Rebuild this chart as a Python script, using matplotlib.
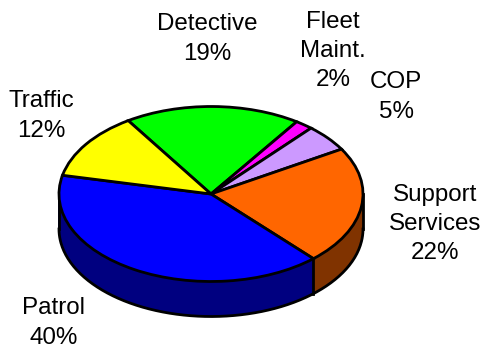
import numpy as np
import matplotlib
matplotlib.use('Agg')
import matplotlib.pyplot as plt

plt.rcParams['font.family'] = ['Liberation Sans', 'DejaVu Sans']

labels = ['Detective', 'Fleet\nMaint.', 'COP', 'Support\nServices', 'Patrol', 'Traffic']
values = [18.7, 1.9, 5.0, 21.8, 40.2, 12.4]
top_colors = ['#00ff00', '#ff00ff', '#cc99ff', '#ff6600', '#0000ff', '#ffff00']
side_colors = ['#008000', '#800080', '#664d80', '#803300', '#000080', '#808000']

# pixel positions of the label centres
label_x = [207, 333, 396, 435, 54, 41]
label_y = [39, 51, 97, 224, 323, 116]

W, H = 482, 348
cx, cy = 211, 194
rx, ry = 152, 87.5
depth = 35
start = 123

fig = plt.figure(figsize=(W / 100, H / 100), dpi=100)
ax = fig.add_axes([0, 0, 1, 1])

# side wall: same pie repeated downward, darker
for d in range(depth, 0, -1):
    wedges, _ = ax.pie(values, colors=side_colors, startangle=start, counterclock=False,
                       radius=1, center=(0, -d / ry), frame=False)
    for w in wedges:
        w.set_edgecolor(w.get_facecolor())
        w.set_linewidth(0.6)

t = np.linspace(np.pi, 2 * np.pi, 200)
ax.plot(np.cos(t), np.sin(t) - depth / ry, color='black', lw=2, zorder=3)
ax.plot([-1, -1], [0, -depth / ry], color='black', lw=2, zorder=3)
ax.plot([1, 1], [0, -depth / ry], color='black', lw=2, zorder=3)

# vertical edges where a wedge boundary falls on the front half
cum = start - np.cumsum(values) * 3.6
for a in cum:
    if np.sin(np.radians(a)) < 0:
        xa, ya = np.cos(np.radians(a)), np.sin(np.radians(a))
        ax.plot([xa, xa], [ya, ya - depth / ry], color='black', lw=2, zorder=3)

# top face
wedges, _ = ax.pie(values, colors=top_colors, startangle=start, counterclock=False,
                   radius=1, frame=False,
                   wedgeprops=dict(edgecolor='black', linewidth=2, zorder=4))

ax.set_xlim((0 - cx) / rx, (W - cx) / rx)
ax.set_ylim((cy - H) / ry, cy / ry)
ax.set_aspect('auto')
ax.axis('off')

for name, v, lx, ly in zip(labels, values, label_x, label_y):
    fig.text(lx / W, 1 - ly / H, '%s\n%.0f%%' % (name, v), ha='center', va='center',
             fontsize=17.4, color='black', linespacing=1.42)

fig.savefig('out.png', dpi=100)
